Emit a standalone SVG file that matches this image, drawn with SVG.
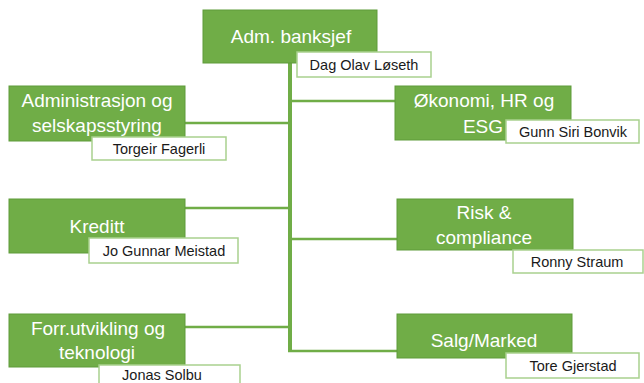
<svg xmlns="http://www.w3.org/2000/svg" width="644" height="383" viewBox="0 0 644 383">
<style>
.box{fill:#70AD47;stroke:#5E9B3A;stroke-width:1}
.nb{fill:#FFFFFF;stroke:#A9D18E;stroke-width:1.5}
.t{font-family:"Liberation Sans",Arial,sans-serif;font-size:19px;fill:#FFFFFF;text-anchor:middle}
.n{font-family:"Liberation Sans",Arial,sans-serif;font-size:14.5px;fill:#1A1A1A;text-anchor:middle}
.c{stroke:#70AD47;stroke-width:2.5;fill:none}
</style>
<rect width="644" height="383" fill="#FFFFFF"/>
<g id="connectors">
<line class="c" x1="290" y1="63" x2="290" y2="352" style="stroke-width:4"/>
<line class="c" x1="290" y1="101" x2="395" y2="101"/>
<line class="c" x1="185" y1="123" x2="290" y2="123"/>
<line class="c" x1="185" y1="208" x2="290" y2="208"/>
<line class="c" x1="290" y1="239" x2="397" y2="239"/>
<line class="c" x1="185" y1="327" x2="290" y2="327"/>
<line class="c" x1="288" y1="351" x2="397" y2="351"/>
</g>
<g id="adm">
<rect class="box" x="203" y="10" width="174" height="53"/>
<text class="t" x="291" y="43">Adm. banksjef</text>
<rect class="nb" x="297" y="52" width="134" height="25"/>
<text class="n" x="364" y="70">Dag Olav Løseth</text>
</g>
<g id="admin">
<rect class="box" x="9" y="86" width="176" height="55"/>
<text class="t" x="97" y="107">Administrasjon og</text>
<text class="t" x="97" y="132">selskapsstyring</text>
<rect class="nb" x="92" y="137" width="134" height="23"/>
<text class="n" x="159" y="154">Torgeir Fagerli</text>
</g>
<g id="okonomi">
<rect class="box" x="395" y="86" width="176" height="54"/>
<text class="t" x="484" y="107">Økonomi, HR og</text>
<text class="t" x="483" y="133">ESG</text>
<rect class="nb" x="506" y="120" width="133" height="23"/>
<text class="n" x="573" y="137">Gunn Siri Bonvik</text>
</g>
<g id="kreditt">
<rect class="box" x="9" y="199" width="176" height="54"/>
<text class="t" x="97" y="233">Kreditt</text>
<rect class="nb" x="89" y="238" width="149" height="25"/>
<text class="n" x="164" y="256">Jo Gunnar Meistad</text>
</g>
<g id="risk">
<rect class="box" x="397" y="199" width="176" height="51"/>
<text class="t" x="484" y="219">Risk &amp;</text>
<text class="t" x="484" y="244">compliance</text>
<rect class="nb" x="513" y="250" width="130" height="23"/>
<text class="n" x="577" y="267">Ronny Straum</text>
</g>
<g id="forr">
<rect class="box" x="9" y="314" width="176" height="53"/>
<text class="t" x="98" y="335">Forr.utvikling og</text>
<text class="t" x="97" y="359">teknologi</text>
<rect class="nb" x="99" y="365" width="141" height="22"/>
<text class="n" x="162" y="380">Jonas Solbu</text>
</g>
<g id="salg">
<rect class="box" x="397" y="314" width="175" height="44"/>
<text class="t" x="484" y="347">Salg/Marked</text>
<rect class="nb" x="506" y="353" width="133" height="25"/>
<text class="n" x="573" y="371">Tore Gjerstad</text>
</g>
</svg>
